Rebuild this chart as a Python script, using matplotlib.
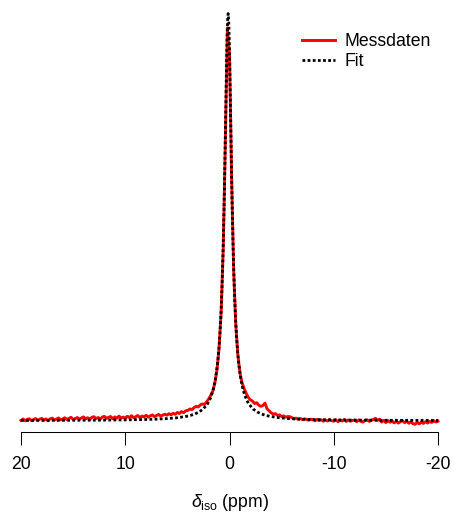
import numpy as np
import matplotlib
matplotlib.use("Agg")
import matplotlib.pyplot as plt

plt.rcParams["font.family"] = ["Liberation Sans", "DejaVu Sans"]
plt.rcParams["mathtext.fontset"] = "custom"
plt.rcParams["mathtext.rm"] = "Liberation Sans"
plt.rcParams["mathtext.it"] = "Liberation Sans:italic"
plt.rcParams["axes.unicode_minus"] = False

# Measured spectrum: chemical shift grid (ppm) and intensity (% of fit maximum)
meas_start, meas_stop, meas_count = 20.0, -20.0, 201
meas_intensity = [
    0.15, 0.5, 0.05, 0.4, 0.55, 0.1, 0.35, 0.6, 0.15, 0.45,
    0.65, 0.2, 0.5, 0.1, 0.55, 0.7, 0.25, 0.45, 0.75, 0.3,
    0.5, 0.8, 0.35, 0.65, 0.9, 0.4, 0.6, 0.85, 0.45, 0.75,
    1.0, 0.55, 0.8, 0.45, 0.9, 1.05, 0.6, 0.85, 0.5, 0.95,
    1.15, 0.65, 0.9, 1.1, 0.55, 1.0, 0.7, 1.2, 0.75, 0.95,
    0.7, 1.15, 0.85, 1.3, 0.8, 1.05, 1.35, 0.85, 1.2, 1.0,
    1.4, 0.95, 1.25, 1.5, 1.05, 1.35, 1.6, 1.2, 1.45, 1.65,
    1.45, 1.8, 1.5, 1.9, 1.65, 2.1, 1.85, 2.3, 2.05, 2.5,
    2.6, 2.95, 2.8, 3.3, 3.6, 3.45, 3.95, 4.2, 4.05, 4.7,
    5.4, 6.3, 7.4, 9.4, 12.6, 17.9, 26.8, 42.5, 68.5, 96.6,
    90.2, 60.0, 37.0, 23.8, 16.3, 11.9, 9.4, 8.0, 6.8, 5.8,
    5.2, 4.9, 4.3, 4.5, 3.9, 3.6, 3.8, 4.4, 3.0, 2.5,
    2.0, 1.7, 1.8, 1.4, 1.5, 1.1, 1.25, 0.95, 1.1, 1.05,
    0.8, 0.55, 0.7, 0.45, 0.6, 0.35, 0.5, 0.4, 0.2, 0.45,
    0.3, 0.05, 0.4, 0.1, 0.3, -0.05, 0.25, 0.0, 0.35, 0.05,
    -0.05, 0.3, -0.15, 0.2, 0.0, 0.35, -0.1, 0.25, -0.05, 0.15,
    0.2, -0.15, 0.25, -0.05, -0.25, 0.15, 0.3, -0.1, 0.2, 0.35,
    0.65, 0.15, 0.45, -0.25, 0.15, -0.4, 0.1, -0.3, -0.05, -0.45,
    -0.1, -0.5, -0.15, 0.05, -0.4, -0.05, -0.55, -0.2, -0.65, -0.8,
    -0.35, -0.7, -0.25, -0.6, -0.15, -0.5, -0.1, -0.35, 0.05, -0.25,
    -0.05,
]

# Fitted line shape, tabulated (ppm, % of maximum)
fit_shift = [
    20.0, 18.13, 16.13, 14.13, 12.13, 10.13, 8.13, 7.13, 6.13, 5.13,
    4.13, 3.73, 3.33, 2.93, 2.53, 2.13, 1.93, 1.73, 1.53, 1.33,
    1.13, 1.03, 0.93, 0.83, 0.73, 0.63, 0.53, 0.48, 0.43, 0.38,
    0.33, 0.28, 0.23, 0.18, 0.13, 0.08, 0.03, -0.02, -0.07, -0.12,
    -0.17, -0.22, -0.27, -0.37, -0.47, -0.57, -0.67, -0.77, -0.87, -1.07,
    -1.27, -1.47, -1.67, -1.87, -2.27, -2.67, -3.07, -3.47, -3.87, -4.87,
    -5.87, -6.87, -7.87, -9.87, -11.87, -13.87, -15.87, -17.87, -20.0,
]
fit_intensity = [
    0.14, 0.15, 0.17, 0.19, 0.22, 0.27, 0.36, 0.44, 0.57, 0.77,
    1.14, 1.38, 1.72, 2.20, 2.94, 4.13, 5.03, 6.26, 8.00, 10.55,
    14.49, 17.29, 20.90, 25.64, 31.93, 40.31, 51.34, 57.95, 65.23, 73.00,
    80.88, 88.30, 94.49, 98.63, 100.10, 98.63, 94.49, 88.30, 80.88, 73.00,
    65.23, 57.95, 51.34, 40.31, 31.93, 25.64, 20.90, 17.29, 14.49, 10.55,
    8.00, 6.26, 5.03, 4.13, 2.94, 2.20, 1.72, 1.38, 1.14, 0.77,
    0.57, 0.44, 0.36, 0.27, 0.22, 0.19, 0.17, 0.15, 0.14,
]

tick_values = [20, 10, 0, -10, -20]
tick_labels = ["20", "10", "0", "-10", "-20"]

meas_shift = np.linspace(meas_start, meas_stop, meas_count)

fig = plt.figure(figsize=(4.54, 5.16), dpi=100)
ax = fig.add_axes([21 / 454, 84 / 516, 417 / 454, 422 / 516])

ax.plot(meas_shift, meas_intensity, color="#ff0000", lw=2.1,
        label="Messdaten", zorder=2, clip_on=False)
ax.plot(fit_shift, fit_intensity, color="black", lw=2.0,
        linestyle=(0, (1.0, 0.85)), label="Fit", zorder=3, clip_on=False)

ax.set_xlim(20, -20)
ax.set_ylim(-2.703, 100.983)

for side in ("left", "top", "right"):
    ax.spines[side].set_visible(False)
ax.spines["bottom"].set_linewidth(0.75)
ax.set_yticks([])
ax.set_xticks(tick_values)
ax.set_xticklabels(tick_labels)
ax.tick_params(axis="x", direction="out", length=9.4, width=0.75,
               pad=8.0, labelsize=12.7)

ax.set_xlabel(r"$\delta_{\mathrm{iso}}$ (ppm)", fontsize=12.7, labelpad=13.5)

ax.legend(loc="upper left", bbox_to_anchor=(301.7 / 454, 1 - 33.5 / 516),
          bbox_transform=fig.transFigure, frameon=False, fontsize=12.7,
          handlelength=1.86, handletextpad=0.56, labelspacing=0.17,
          borderpad=0, borderaxespad=0)

fig.savefig("out.png", dpi=100)
